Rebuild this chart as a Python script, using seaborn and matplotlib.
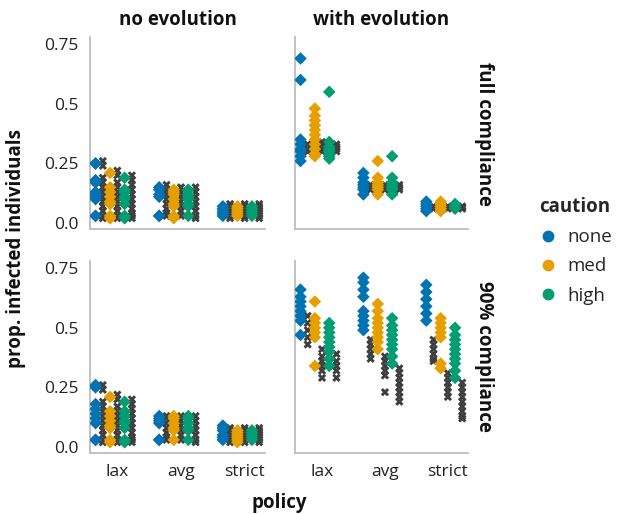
import itertools
import numpy as np
import pandas as pd
import seaborn as sns
import matplotlib.pyplot as plt
from matplotlib.lines import Line2D

# ---------------------------------------------------------------
# data
# each list-of-lists is ordered lax/avg/strict x none/med/high
# "pts" = diamonds (coloured by caution), "ref" = grey crosses
# ---------------------------------------------------------------
policies = ["lax", "avg", "strict"]
cautions = ["none", "med", "high"]
col_names = ["no evolution", "with evolution"]
row_names = ["full compliance", "90% compliance"]

noevo_full_pts = [
    [0.25, 0.25, 0.18, 0.17, 0.13, 0.12, 0.11, 0.10, 0.03, 0.03],
    [0.21, 0.15, 0.13, 0.11, 0.09, 0.08, 0.03, 0.02, 0.02],
    [0.19, 0.14, 0.13, 0.11, 0.10, 0.08, 0.03, 0.02],
    [0.15, 0.14, 0.12, 0.11, 0.03, 0.03],
    [0.14, 0.13, 0.12, 0.10, 0.08, 0.07, 0.03, 0.02],
    [0.14, 0.12, 0.11, 0.10, 0.08, 0.07, 0.03],
    [0.07, 0.06, 0.05, 0.04, 0.03],
    [0.07, 0.06, 0.05, 0.04, 0.03],
    [0.07, 0.06, 0.05, 0.04, 0.03],
]
noevo_full_ref = [
    [0.26, 0.24, 0.19, 0.17, 0.15, 0.13, 0.11, 0.09, 0.07, 0.05, 0.03, 0.02],
    [0.22, 0.20, 0.17, 0.15, 0.13, 0.11, 0.09, 0.07, 0.05, 0.03, 0.02],
    [0.20, 0.18, 0.16, 0.14, 0.12, 0.10, 0.08, 0.06, 0.04, 0.03, 0.02],
    [0.16, 0.14, 0.12, 0.10, 0.08, 0.06, 0.04, 0.03],
    [0.15, 0.13, 0.11, 0.09, 0.07, 0.05, 0.03],
    [0.15, 0.13, 0.11, 0.09, 0.07, 0.05, 0.03, 0.02],
    [0.08, 0.07, 0.06, 0.05, 0.04, 0.03, 0.02],
    [0.08, 0.07, 0.06, 0.05, 0.04, 0.03, 0.02],
    [0.08, 0.07, 0.06, 0.05, 0.04, 0.03, 0.02],
]

noevo_90_pts = [
    [0.26, 0.25, 0.18, 0.16, 0.14, 0.12, 0.10, 0.03, 0.03],
    [0.21, 0.15, 0.13, 0.11, 0.09, 0.08, 0.03, 0.02],
    [0.19, 0.15, 0.13, 0.11, 0.10, 0.08, 0.03, 0.02],
    [0.13, 0.12, 0.11, 0.10, 0.03, 0.03],
    [0.13, 0.12, 0.10, 0.08, 0.07, 0.03],
    [0.13, 0.12, 0.10, 0.08, 0.07, 0.03],
    [0.09, 0.08, 0.07, 0.05, 0.04, 0.03],
    [0.07, 0.06, 0.05, 0.04, 0.03, 0.02],
    [0.07, 0.06, 0.05, 0.04, 0.03],
]
noevo_90_ref = [
    [0.26, 0.24, 0.19, 0.17, 0.15, 0.13, 0.11, 0.09, 0.07, 0.05, 0.03, 0.02],
    [0.22, 0.20, 0.17, 0.15, 0.13, 0.11, 0.09, 0.07, 0.05, 0.03, 0.02],
    [0.20, 0.18, 0.16, 0.14, 0.12, 0.10, 0.08, 0.06, 0.04, 0.03, 0.02],
    [0.13, 0.12, 0.10, 0.08, 0.06, 0.04, 0.03],
    [0.13, 0.11, 0.09, 0.07, 0.05, 0.03],
    [0.13, 0.11, 0.09, 0.07, 0.05, 0.03, 0.02],
    [0.08, 0.07, 0.06, 0.05, 0.04, 0.03, 0.02],
    [0.08, 0.07, 0.06, 0.05, 0.04, 0.03, 0.02],
    [0.08, 0.07, 0.06, 0.05, 0.04, 0.03, 0.02],
]

evo_full_pts = [
    [0.69, 0.60, 0.35, 0.33, 0.31, 0.30, 0.28, 0.26],
    [0.48, 0.45, 0.43, 0.41, 0.39, 0.37, 0.35, 0.33, 0.31, 0.29, 0.28],
    [0.55, 0.34, 0.32, 0.31, 0.30, 0.29, 0.28, 0.27],
    [0.21, 0.19, 0.17, 0.16, 0.15, 0.14, 0.12],
    [0.26, 0.19, 0.17, 0.16, 0.15, 0.14, 0.12],
    [0.28, 0.19, 0.17, 0.16, 0.15, 0.14, 0.12],
    [0.09, 0.08, 0.07, 0.06, 0.05],
    [0.09, 0.08, 0.07, 0.06, 0.05],
    [0.08, 0.07, 0.06],
]
evo_full_ref = [
    [0.33, 0.31, 0.30],
    [0.34, 0.33, 0.31, 0.30],
    [0.33, 0.32, 0.31, 0.30],
    [0.16, 0.15, 0.14],
    [0.16, 0.15, 0.14],
    [0.16, 0.15, 0.14],
    [0.07, 0.065, 0.06],
    [0.07, 0.065, 0.06],
    [0.07, 0.065, 0.06],
]

evo_90_pts = [
    [0.66, 0.63, 0.61, 0.59, 0.57, 0.55, 0.53, 0.47],
    [0.61, 0.54, 0.52, 0.50, 0.48, 0.46, 0.34],
    [0.52, 0.50, 0.48, 0.46, 0.44, 0.42, 0.40, 0.37, 0.34],
    [0.71, 0.69, 0.66, 0.63, 0.57, 0.55, 0.53, 0.51, 0.49],
    [0.60, 0.57, 0.54, 0.52, 0.50, 0.48, 0.46, 0.44, 0.41],
    [0.54, 0.51, 0.49, 0.47, 0.45, 0.43, 0.41, 0.38, 0.35],
    [0.68, 0.65, 0.62, 0.59, 0.56, 0.53],
    [0.54, 0.52, 0.50, 0.48, 0.46, 0.35, 0.33],
    [0.50, 0.47, 0.45, 0.43, 0.41, 0.39, 0.37, 0.35, 0.32, 0.29],
]
evo_90_ref = [
    [0.55, 0.52, 0.49, 0.46, 0.43],
    [0.41, 0.38, 0.36, 0.34, 0.32, 0.29],
    [0.39, 0.36, 0.34, 0.32, 0.29],
    [0.45, 0.43, 0.41, 0.39, 0.37],
    [0.38, 0.36, 0.34, 0.32, 0.30, 0.23],
    [0.33, 0.31, 0.29, 0.27, 0.25, 0.23, 0.21, 0.19],
    [0.45, 0.43, 0.41, 0.39, 0.37, 0.36],
    [0.31, 0.29, 0.27, 0.25, 0.23, 0.21],
    [0.27, 0.25, 0.23, 0.21, 0.19, 0.17, 0.15, 0.13, 0.12],
]

# ---------------------------------------------------------------
# long table
# ---------------------------------------------------------------
panels = [
    ("no evolution", "full compliance", noevo_full_pts, noevo_full_ref),
    ("with evolution", "full compliance", evo_full_pts, evo_full_ref),
    ("no evolution", "90% compliance", noevo_90_pts, noevo_90_ref),
    ("with evolution", "90% compliance", evo_90_pts, evo_90_ref),
]
recs = []
for evo, comp, pts, ref in panels:
    for i, (pol, cau) in enumerate(itertools.product(policies, cautions)):
        recs += [(evo, comp, pol, cau, "pt", v) for v in pts[i]]
        recs += [(evo, comp, pol, cau, "ref", v) for v in ref[i]]
df = pd.DataFrame(recs, columns=["evolution", "compliance", "policy", "caution", "kind", "value"])
df["grp"] = df["caution"] + np.where(df["kind"] == "ref", "_ref", "")

# interleave diamonds and crosses; trailing empty slot shifts the group left
hue_order = ["none", "none_ref", "med", "med_ref", "high", "high_ref", "_pad"]
colors = ["#0173b2", "#e69f00", "#029e73"]
grey = "#3f3f3f"
palette = {"_pad": "white"}
for c, col in zip(cautions, colors):
    palette[c] = col
    palette[c + "_ref"] = grey

# ---------------------------------------------------------------
# plot
# ---------------------------------------------------------------
sns.set_theme(style="white")
plt.rcParams["font.family"] = ["Open Sans", "DejaVu Sans"]

spine_c = "#bdbdbd"
fig = plt.figure(figsize=(6.18, 5.14), dpi=100)
xs = [90 / 618, 295 / 618]
ws = [175 / 618, 173 / 618]
ys = [(514 - 229) / 514, (514 - 453) / 514]
h = 192 / 514

for r, comp in enumerate(row_names):
    for c, evo in enumerate(col_names):
        ax = fig.add_axes([xs[c], ys[r], ws[c], h])
        sub = df[(df["evolution"] == evo) & (df["compliance"] == comp)]
        common = dict(x="policy", y="value", hue="grp", order=policies,
                      hue_order=hue_order, palette=palette, dodge=True,
                      jitter=False, linewidth=0, legend=False, ax=ax)
        sns.stripplot(data=sub[sub["kind"] == "ref"], marker="X", size=6.0, **common)
        sns.stripplot(data=sub[sub["kind"] == "pt"], marker="D", size=6.4, **common)

        ax.set_xlim(-0.43, 2.32)
        ax.set_ylim(-0.025, 0.78)
        ax.set_yticks([0, 0.25, 0.5, 0.75])
        ax.set_yticklabels(["0.0", "0.25", "0.5", "0.75"])
        ax.set_xlabel("")
        ax.set_ylabel("")
        for s in ["top", "right"]:
            ax.spines[s].set_visible(False)
        for s in ["left", "bottom"]:
            ax.spines[s].set_color(spine_c)
            ax.spines[s].set_linewidth(1.3)
        ax.tick_params(length=5, width=1.1, color=spine_c, labelsize=12.5,
                       labelcolor="#222222", pad=3)
        if c == 1:
            ax.tick_params(axis="y", left=False, labelleft=False)
        if r == 0:
            ax.tick_params(axis="x", bottom=False, labelbottom=False)

lab = dict(fontsize=13.5, fontweight="bold", color="#111111")
fig.text((90 + 265) / 2 / 618, 1 - 20 / 514, col_names[0], ha="center", va="center", **lab)
fig.text((295 + 468) / 2 / 618, 1 - 20 / 514, col_names[1], ha="center", va="center", **lab)
fig.text(484 / 618, 1 - 133.5 / 514, row_names[0], rotation=-90, ha="center", va="center", **lab)
fig.text(484 / 618, 1 - 356.5 / 514, row_names[1], rotation=-90, ha="center", va="center", **lab)
fig.text(16 / 618, 1 - 248 / 514, "prop. infected individuals", rotation=90, ha="center", va="center", **lab)
fig.text(279 / 618, 1 - 503 / 514, "policy", ha="center", va="center", **lab)

handles = [Line2D([], [], marker="o", ls="", color=col, markersize=7.5) for col in colors]
leg = fig.legend(handles, cautions, title="caution", loc="upper left",
                 bbox_to_anchor=(522 / 618, 1 - 180 / 514), frameon=False,
                 fontsize=13.5, alignment="left", handletextpad=0.5,
                 labelspacing=0.6, handlelength=1.0,
                 title_fontproperties={"weight": "bold", "size": 13.5})

fig.savefig("out.png", dpi=100)
